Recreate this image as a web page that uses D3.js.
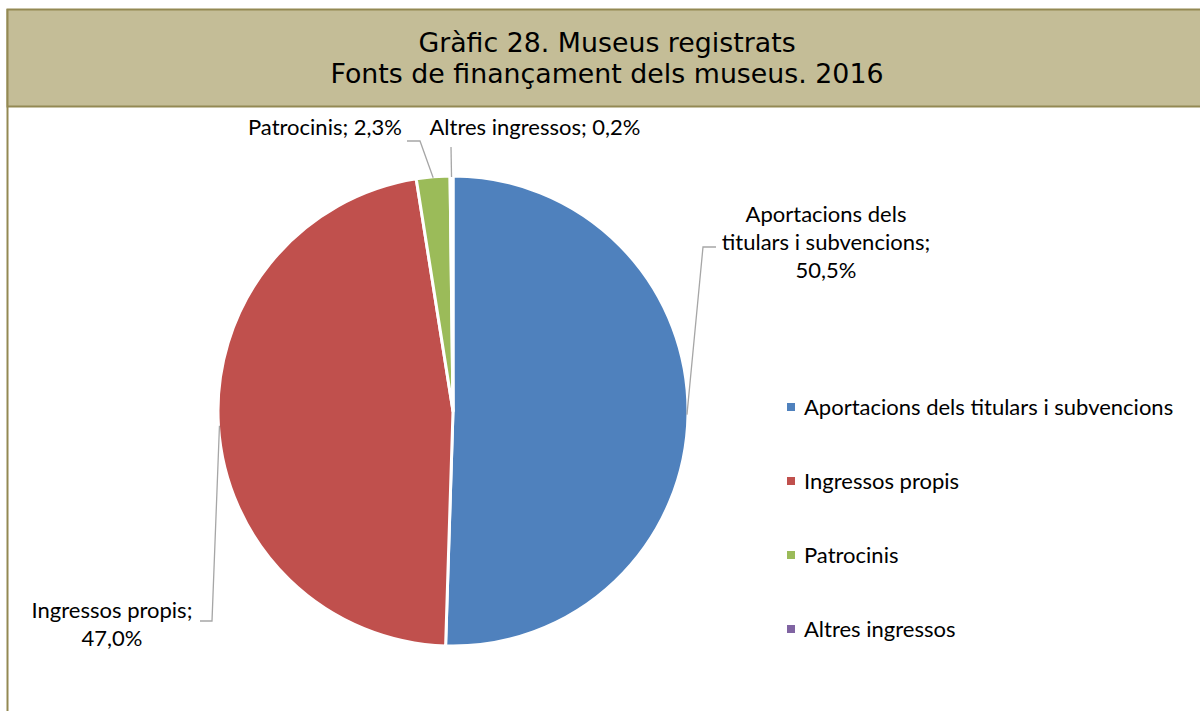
<!DOCTYPE html>
<html>
<head>
<meta charset="utf-8">
<script src="https://cdn.jsdelivr.net/npm/d3@7"></script>
<style>
  html, body { margin: 0; padding: 0; background: #ffffff; }
  svg { display: block; }
</style>
</head>
<body>
<svg id="chart" width="1200" height="711"></svg>
<script>
// ---- Data ----
const titleLines = ["Gràfic 28. Museus registrats", "Fonts de finançament dels museus. 2016"];
const categories = ["Aportacions dels titulars i subvencions", "Ingressos propis", "Patrocinis", "Altres ingressos"];
const values = [50.5, 47.0, 2.3, 0.2];
const valueLabels = ["50,5%", "47,0%", "2,3%", "0,2%"];
const colors = ["#4f81bd", "#c0504d", "#9bbb59", "#8064a2"];

// ---- Layout ----
const W = 1200, H = 711;
const svg = d3.select("#chart");
const labelFont = "Lato, 'Open Sans', sans-serif";
const titleFont = "'DejaVu Sans', Verdana, sans-serif";
const labelSize = 22;

// Frame + title band
svg.append("line").attr("x1", 7.5).attr("x2", 7.5).attr("y1", 9).attr("y2", H)
  .attr("stroke", "#938953").attr("stroke-width", 2);
svg.append("rect").attr("x", 7.5).attr("y", 9.5).attr("width", W).attr("height", 97)
  .attr("fill", "#c4bd97").attr("stroke", "#938953").attr("stroke-width", 2);

const title = svg.append("text").attr("text-anchor", "middle")
  .attr("font-family", titleFont).attr("font-size", 26.8).attr("fill", "#000");
titleLines.forEach((t, i) => {
  title.append("tspan").attr("x", 607).attr("y", 52 + i * 31).text(t);
});

// Pie
const cx = 453, cy = 411, R = 235;
const g = svg.append("g").attr("transform", `translate(${cx},${cy})`);
const pie = d3.pie().sort(null).value(d => d.v);
const data = categories.map((c, i) => ({ c, v: values[i], lab: valueLabels[i], col: colors[i] }));
const arcs = pie(data);
const arc = d3.arc().innerRadius(0).outerRadius(R);

g.selectAll("path.slice").data(arcs).enter().append("path")
  .attr("class", "slice")
  .attr("d", arc)
  .attr("fill", d => d.data.col)
  .attr("stroke", "#ffffff").attr("stroke-width", 3).attr("stroke-linejoin", "round");

// Leader lines & labels
function edgePoint(d, r) {
  const a = (d.startAngle + d.endAngle) / 2;
  return [cx + r * Math.sin(a), cy - r * Math.cos(a)];
}
const leaderLayouts = [
  { elbow: [703, 247], end: [716, 247] },
  { elbow: [212, 621], end: [200, 621] },
  { elbow: [420, 141], end: [407, 141] },
  { elbow: null, end: [451, 147] }
];
arcs.forEach((d, i) => {
  const p0 = edgePoint(d, R - 1);
  const L = leaderLayouts[i];
  const pts = [p0];
  if (L.elbow) pts.push(L.elbow);
  pts.push(L.end);
  svg.append("path").attr("d", d3.line()(pts))
    .attr("fill", "none").attr("stroke", "#a6a6a6").attr("stroke-width", 1.3);
});

const labelBlocks = [
  { x: 826, y: 222, lines: ["Aportacions dels", "titulars i subvencions;", valueLabels[0]] },
  { x: 112, y: 618, lines: ["Ingressos propis;", valueLabels[1]] },
  { x: 325, y: 135, lines: [categories[2] + "; " + valueLabels[2]] },
  { x: 535, y: 135, lines: [categories[3] + "; " + valueLabels[3]] }
];
labelBlocks.forEach(b => {
  const t = svg.append("text").attr("text-anchor", "middle")
    .attr("font-family", labelFont).attr("font-size", labelSize).attr("fill", "#000");
  b.lines.forEach((ln, i) => t.append("tspan").attr("x", b.x).attr("y", b.y + i * 27.8).text(ln));
});

// Legend
const legendY = d3.scalePoint().domain(categories).range([407, 629]);
const lg = svg.append("g");
categories.forEach((c, i) => {
  const y = legendY(c);
  lg.append("rect").attr("x", 787).attr("y", y - 4).attr("width", 8).attr("height", 8).attr("fill", colors[i]);
  lg.append("text").attr("x", 804).attr("y", y + 8)
    .attr("font-family", labelFont).attr("font-size", labelSize).attr("fill", "#000").text(c);
});
</script>
</body>
</html>
